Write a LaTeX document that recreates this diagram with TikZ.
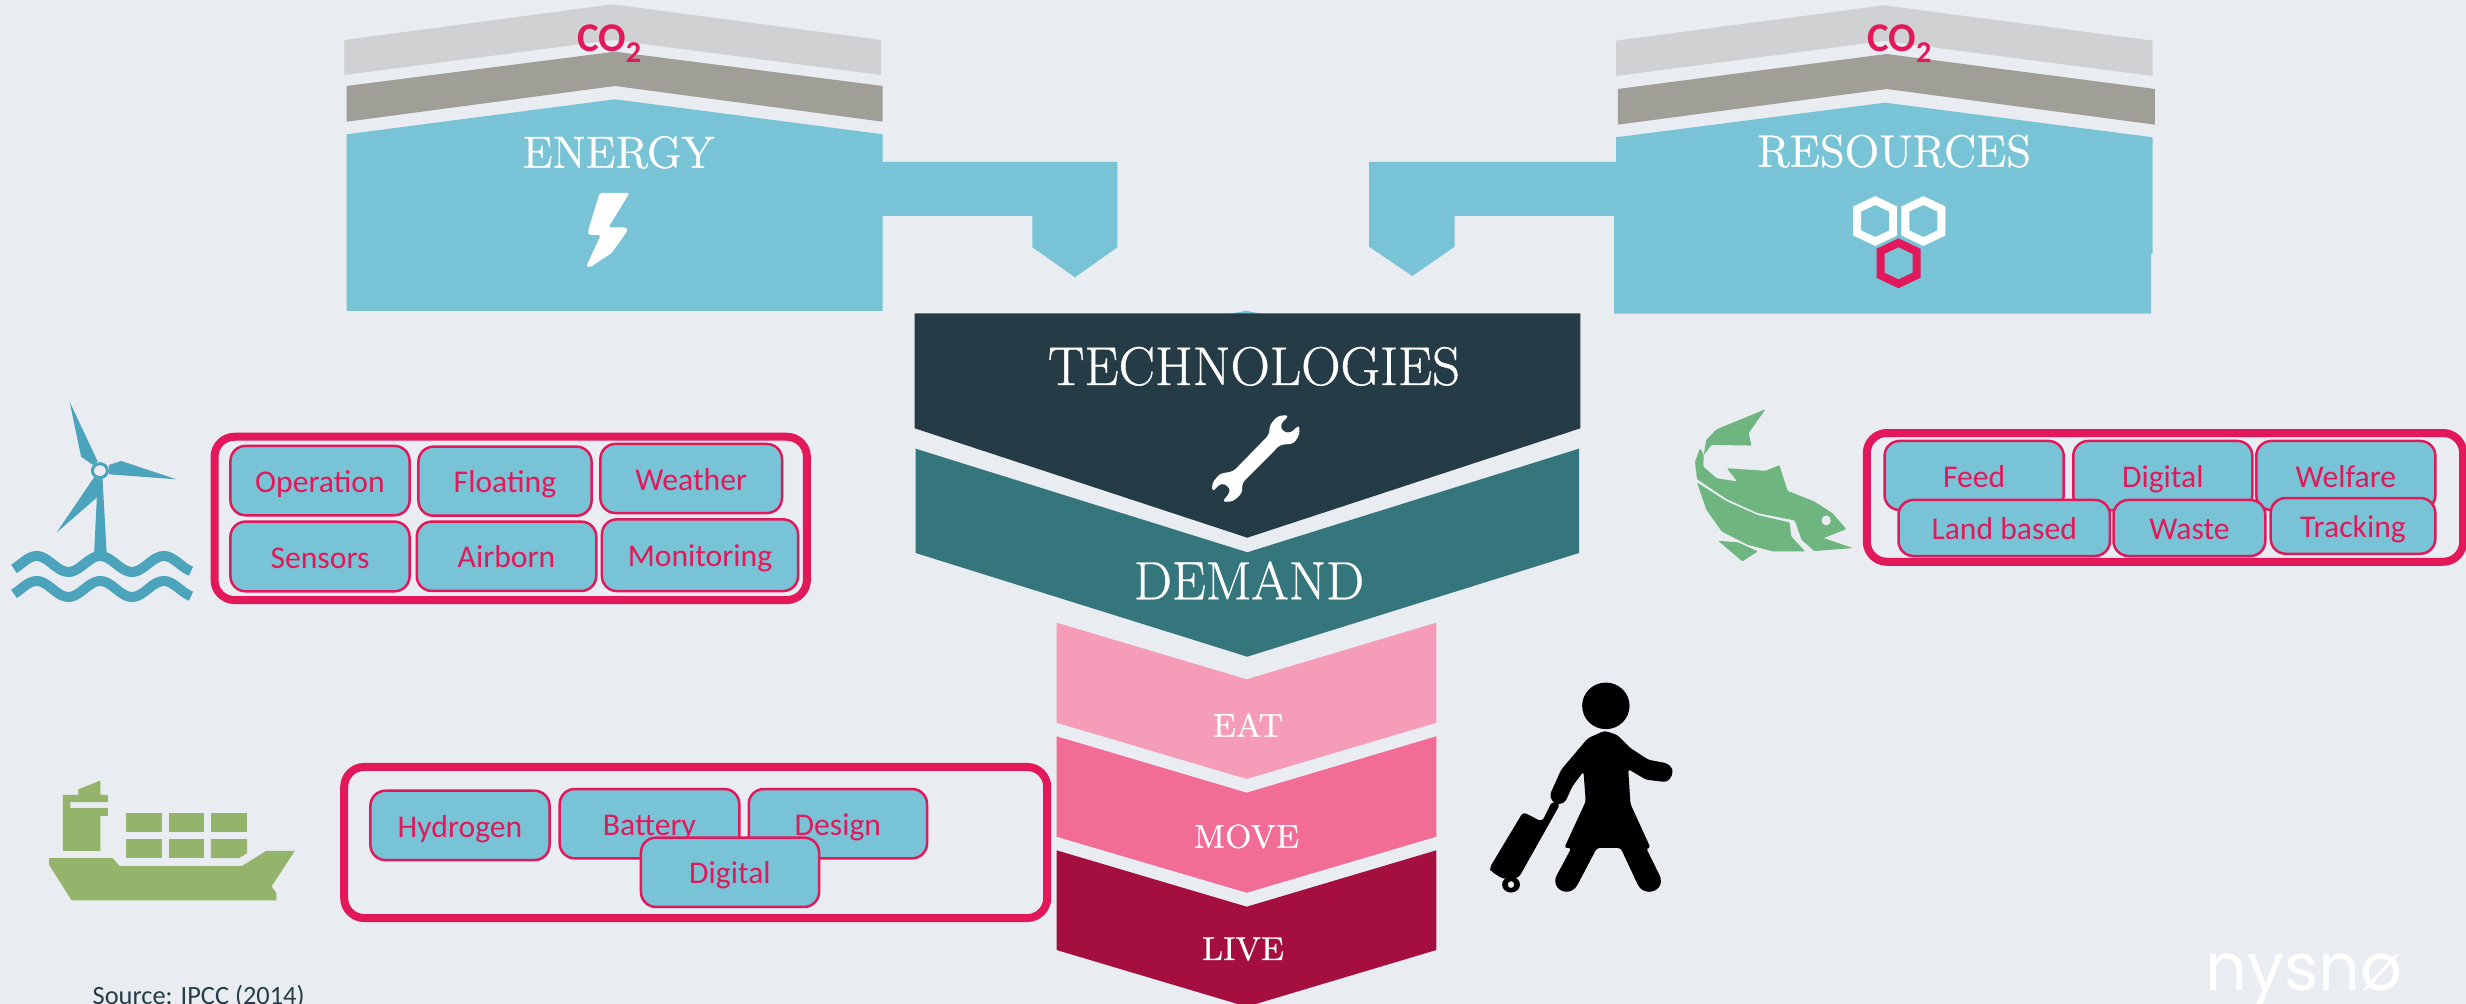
\documentclass[tikz,border=0pt]{standalone}
\usepackage{fontspec}
\newfontfamily\tagfont{Carlito}
\newfontfamily\logofont{Poppins}
\newfontfamily\headfont[FakeBold=0.7]{Latin Modern Roman}
\definecolor{pagebg}{HTML}{E9ECF1}
\definecolor{skyblue}{HTML}{78C4D6}
\definecolor{lightgrey}{HTML}{CFD1D3}
\definecolor{darkgrey}{HTML}{9F9F98}
\definecolor{crimson}{HTML}{E2185B}
\definecolor{techcol}{HTML}{253C47}
\definecolor{demandcol}{HTML}{35767D}
\definecolor{eatcol}{HTML}{F59DB8}
\definecolor{movecol}{HTML}{F26D96}
\definecolor{livecol}{HTML}{A50F3F}
\definecolor{windcol}{HTML}{4CA3BC}
\definecolor{fishcol}{HTML}{6FB57F}
\definecolor{shipcol}{HTML}{94B46B}
\tikzset{
	tagbox/.style={draw=crimson, fill=skyblue, line width=0.025cm, rounded corners=0.15cm, inner sep=0pt, text=crimson, text height=6.6pt, text depth=0pt, font=\tagfont\fontsize{9}{9}\selectfont},
	groupbox/.style={draw=crimson, line width=0.08cm, rounded corners=0.2cm, inner sep=0pt},
	headtext/.style={text=white, inner sep=0pt, anchor=base},
	cotext/.style={text=crimson, inner sep=0pt, anchor=base west, font=\tagfont\bfseries\fontsize{11.6}{12}\selectfont}
}
\def\hexring[#1](#2){\draw[#1, line width=0.08cm, shift={(#2)}] (0,-20.5) -- (18,-12) -- (18,12) -- (0,20.5) -- (-18,12) -- (-18,-12) -- cycle;}

\begin{document}
\begin{tikzpicture}[x=0.01cm, y=-0.01cm]
	%%%%% START %%%%%
	\fill[pagebg] (0,0) rectangle (2466,1004);
	\useasboundingbox (0,0) rectangle (2466,1004);

	% energy column
	\fill[lightgrey] (344.4,40) -- (612.7,4.3) -- (881,40) -- (881,75) -- (612.7,40) -- (344.4,75) -- cycle;
	\fill[darkgrey] (346.6,86) -- (615,51.7) -- (882.6,86) -- (882.6,121.7) -- (615,86) -- (346.6,121.7) -- cycle;
	\fill[skyblue] (346.6,134.3) -- (615,99.3) -- (882.6,134.3) -- (882.6,162) -- (1117.3,162) -- (1117.3,247.3) -- (1075,277.3) -- (1032.3,247.3) -- (1032.3,216) -- (882.6,216) -- (882.6,311) -- (346.6,311) -- cycle;
	\node[cotext] (co2left) at (576.4,51.7) {CO\raisebox{-3.2pt}{\fontsize{8.6}{9}\selectfont 2}};
	\node[headtext, font=\headfont\fontsize{12.8}{12.8}\selectfont] (energy) at (618.6,167.7) {ENERGY};
	\fill[white, rounded corners=0.5pt] (599.7,193) -- (629.5,193) -- (608.4,227.3) -- (625.2,227.3) -- (627.9,230) -- (611.7,253) -- (590,267.3) -- (586.2,266.7) -- (600.8,235) -- (588.3,235) -- (588.3,230) -- cycle;

	% resources column
	\fill[lightgrey] (1616.1,40.7) -- (1883.9,5.3) -- (2152.7,40.7) -- (2152.7,76) -- (1883.9,41) -- (1616.1,76) -- cycle;
	\fill[darkgrey] (1617.8,89) -- (1886.6,54) -- (2154.9,89) -- (2154.9,124.7) -- (1886.6,89) -- (1617.8,124.7) -- cycle;
	\fill[skyblue] (1616,137.3) -- (1885,102.7) -- (2152.7,137.3) -- (2152.7,254) -- (2151,254) -- (2151,313.7) -- (1614,313.7) -- (1614,216) -- (1454.6,216) -- (1454.6,246.7) -- (1412.3,276) -- (1369,246.7) -- (1369,162) -- (1616,162) -- cycle;
	\node[cotext] (co2right) at (1866.5,51.7) {CO\raisebox{-3.2pt}{\fontsize{8.6}{9}\selectfont 2}};
	\node[headtext, font=\headfont\fontsize{12.9}{12.9}\selectfont] (resources) at (1894,166.7) {RESOURCES};
	\hexring[draw=white](1875.2,221);
	\hexring[draw=white](1923.4,221);
	\hexring[draw=crimson](1898.5,263.3);

	% centre chevrons
	\fill[skyblue] (1230,314) -- (1246,310.7) -- (1262,314) -- cycle;
	\fill[techcol] (914.7,313.3) -- (1580.4,313.3) -- (1580.4,428.3) -- (1247.3,537.7) -- (914.7,428.3) -- cycle;
	\fill[demandcol] (915.6,448.7) -- (1247.3,552.3) -- (1579,448.7) -- (1579,553) -- (1247.3,656.7) -- (915.6,553) -- cycle;
	\fill[eatcol] (1056.5,622.7) -- (1246.7,679.3) -- (1436.4,622.7) -- (1436.4,722.7) -- (1246.7,779) -- (1056.5,722.7) -- cycle;
	\fill[movecol] (1056.5,736.3) -- (1246.7,792.7) -- (1436.4,736.3) -- (1436.4,836.7) -- (1246.7,892.7) -- (1056.5,836.7) -- cycle;
	\fill[livecol] (1056.5,850.3) -- (1246.7,906.7) -- (1436.4,850.3) -- (1436.4,950) -- (1246.7,1006.7) -- (1056.5,950) -- cycle;
	\node[headtext, font=\headfont\fontsize{15.5}{15.5}\selectfont] (technologies) at (1254,385) {TECHNOLOGIES};
	\node[headtext, font=\headfont\fontsize{15.3}{15.3}\selectfont] (demand) at (1249,599.3) {DEMAND};
	\node[headtext, font=\headfont\fontsize{9.4}{9.4}\selectfont] (eat) at (1248,736.7) {EAT};
	\node[headtext, font=\headfont\fontsize{9.4}{9.4}\selectfont] (move) at (1246.5,847.7) {MOVE};
	\node[headtext, font=\headfont\fontsize{9.4}{9.4}\selectfont] (live) at (1243,960) {LIVE};

	% wrench
	\begin{scope}[shift={(900,290)}, x=0.004464cm, y=-0.003333cm]
		\fill[white, rounded corners=1pt] (870,376) -- (845,378) -- (827,405) -- (825,435) -- (745,545) -- (715,552) -- (698,580) -- (698,607) -- (718,580) -- (735,590) -- (738,608) -- (720,637) -- (745,635) -- (765,610) -- (765,580) -- (850,465) -- (880,462) -- (893,435) -- (893,405) -- (873,430) -- (855,425) -- (850,405) -- cycle;
	\end{scope}

	% wind turbine
	\begin{scope}[windcol]
		\fill (81.1,456.7) -- (69.6,401.7) -- (97.8,461.7) -- (93,465) -- cycle;
		\fill (108.8,465) -- (121.3,461) -- (176.3,479.3) -- (108.8,474.3) -- cycle;
		\fill (94.1,477.3) -- (56.5,532.7) -- (97.8,496.7) -- (99.4,480) -- cycle;
		\fill (94.1,553.3) -- (97.8,478.3) -- (102.5,478.3) -- (106.7,553.3) -- cycle;
		\draw[line width=0.03cm, fill=pagebg] (99.9,470.7) ellipse (7.5 and 7);
		\draw[line width=0.1cm] plot[domain=14:191, samples=60] (\x,{564-8*cos((\x-36.6)*5.66)});
		\draw[line width=0.1cm] plot[domain=14:191, samples=60] (\x,{589-8*cos((\x-36.6)*5.66)});
	\end{scope}

	% wind group
	\node[groupbox, minimum width=5.92cm, minimum height=1.632cm] (windgroup) at (510.7,518.4) {};
	\node[tagbox, minimum width=1.79cm, minimum height=0.693cm] (operation) at (320,480.6) {Operation};
	\node[tagbox, minimum width=1.73cm, minimum height=0.69cm] (floating) at (505,481.2) {Floating};
	\node[tagbox, minimum width=1.815cm, minimum height=0.69cm] (weather) at (691.2,478.5) {Weather};
	\node[tagbox, minimum width=1.79cm, minimum height=0.696cm] (sensors) at (320,556.5) {Sensors};
	\node[tagbox, minimum width=1.794cm, minimum height=0.693cm] (airborn) at (506.5,556.3) {Airborn};
	\node[tagbox, minimum width=1.96cm, minimum height=0.717cm] (monitoring) at (700,555.2) {Monitoring};

	% fish
	\begin{scope}[shift={(1660,390)}, x=0.005141cm, y=-0.003333cm, fishcol, rounded corners=0.3pt]
		\fill (205,58) -- (110,118) -- (90,150) -- (85,195) -- (100,165) -- (178,167) -- (172,130) -- cycle;
		\fill (150,275) -- (130,235) -- (205,243) -- (232,226) -- (248,303) -- (300,335) -- (335,370) -- (362,418) -- (318,445) -- (375,475) -- (300,484) -- (275,450) -- (262,392) -- (190,370) -- (130,328) -- (72,268) -- (68,215) -- (78,175) -- (85,195) -- (84,230) -- (110,265) -- cycle;
		\fill (72,278) -- (130,335) -- (190,376) -- (252,398) -- (255,440) -- (282,485) -- (220,485) -- (170,465) -- (120,425) -- (90,360) -- cycle;
		\fill (113,453) -- (152,458) -- (190,485) -- (160,515) -- cycle;
		\fill[pagebg] (323,392) ellipse (9 and 15);
	\end{scope}

	% fish group
	\node[groupbox, minimum width=5.96cm, minimum height=1.287cm] (fishgroup) at (2165,497.4) {};
	\node[tagbox, minimum width=1.79cm, minimum height=0.69cm] (feed) at (1974.1,475.5) {Feed};
	\node[tagbox, minimum width=1.79cm, minimum height=0.69cm] (digitalfish) at (2162.8,475.5) {Digital};
	\node[tagbox, minimum width=1.79cm, minimum height=0.69cm] (welfare) at (2345.8,475.5) {Welfare};
	\node[tagbox, minimum width=2.113cm, minimum height=0.56cm] (landbased) at (2004.2,528) {Land based};
	\node[tagbox, minimum width=1.517cm, minimum height=0.56cm] (waste) at (2189.4,528) {Waste};
	\node[tagbox, minimum width=1.645cm, minimum height=0.557cm] (tracking) at (2353,525.9) {Tracking};

	% ship
	\begin{scope}[shift={(0,740)}, x=0.006826cm, y=-0.003333cm, shipcol]
		\fill (72,355) -- (165,355) -- (175,378) -- (355,378) -- (390,333) -- (432,333) -- (398,440) -- (405,460) -- (405,482) -- (105,482) -- (72,375) -- cycle;
		\fill (92,165) -- (115,165) -- (115,148) -- (147,122) -- (147,165) -- (158,165) -- (158,187) -- (103,187) -- (103,205) -- (158,205) -- (158,228) -- (147,228) -- (147,333) -- (92,333) -- cycle;
		\fill (184,220) rectangle (237,277);
		\fill (247,220) rectangle (299,277);
		\fill (309,220) rectangle (362,277);
		\fill (184,298) rectangle (237,355);
		\fill (247,298) rectangle (299,355);
		\fill (309,298) -- (362,298) -- (362,340) -- (350,355) -- (309,355) -- cycle;
	\end{scope}

	% ship group
	\node[groupbox, minimum width=7.026cm, minimum height=1.51cm] (shipgroup) at (695.7,842.5) {};
	\node[tagbox, minimum width=1.79cm, minimum height=0.693cm] (hydrogen) at (460,825.4) {Hydrogen};
	\node[tagbox, minimum width=1.795cm, minimum height=0.693cm] (battery) at (649.5,823.7) {Battery};
	\node[tagbox, minimum width=1.782cm, minimum height=0.693cm] (design) at (837.9,823.7) {Design};
	\node[tagbox, minimum width=1.78cm, minimum height=0.693cm] (digitalship) at (730,872.3) {Digital};

	% traveller
	\begin{scope}[shift={(1040,620)}, x=0.004464cm, y=-0.003333cm]
		\fill (1265,258) ellipse (53 and 70);
		\fill[rounded corners=0.8pt] (1262,333) -- (1290,345) -- (1320,385) -- (1360,420) -- (1400,430) -- (1412,442) -- (1415,458) -- (1410,475) -- (1400,487) -- (1355,480) -- (1315,448) -- (1320,553) -- (1365,685) -- (1355,685) -- (1388,775) -- (1388,795) -- (1378,812) -- (1362,818) -- (1346,812) -- (1338,800) -- (1298,685) -- (1245,685) -- (1200,800) -- (1192,812) -- (1178,818) -- (1162,812) -- (1152,795) -- (1152,775) -- (1188,685) -- (1172,685) -- (1220,545) -- (1215,455) -- (1190,500) -- (1175,545) -- (1165,553) -- (1155,553) -- (1145,545) -- (1140,525) -- (1165,450) -- (1225,355) -- cycle;
		\fill[rounded corners=1pt] (1080,577) -- (1122,606) -- (1145,545) -- (1163,553) -- (1070,775) -- (1035,778) -- (1008,755) -- (1005,745) -- cycle;
		\fill (1053,795) ellipse (20 and 24);
		\fill[pagebg] (1053,795) ellipse (7 and 10);
	\end{scope}

	% source and logo
	\node[inner sep=0pt, anchor=base west, text=techcol, font=\tagfont\fontsize{7.5}{7.5}\selectfont] (source) at (92,1005) {Source: IPCC (2014)};
	\node[inner sep=0pt, anchor=base west, text=white, font=\logofont\fontsize{18.6}{18.6}\selectfont] (logo) at (2205,991) {nysnø};
	%%%%% END %%%%%
\end{tikzpicture}
\end{document}
